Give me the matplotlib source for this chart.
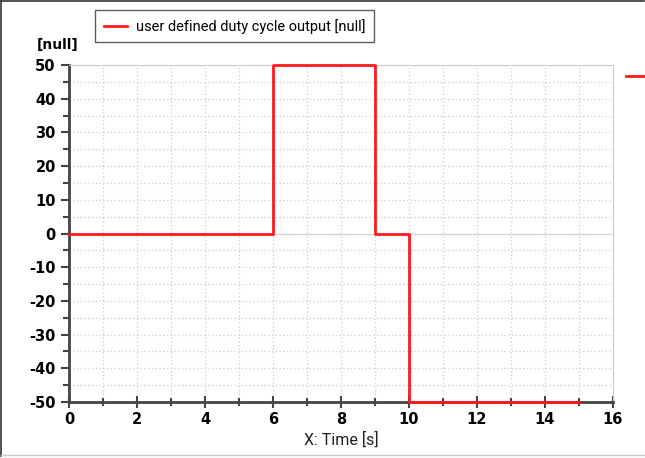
import matplotlib.pyplot as plt
from matplotlib.ticker import MultipleLocator

plt.rcParams['font.family'] = ['DejaVu Sans']
plt.rcParams['axes.unicode_minus'] = False

# step signal: duty cycle output
time = [0, 6, 6, 9, 9, 10, 10, 15]
duty = [0, 0, 50, 50, 0, 0, -50, -50]

xticks = [0, 2, 4, 6, 8, 10, 12, 14, 16]
yticks = [50, 40, 30, 20, 10, 0, -10, -20, -30, -40, -50]

fig = plt.figure(figsize=(6.45, 4.58), dpi=100)
ax = fig.add_axes([69 / 645, 1 - 402 / 458, 544 / 645, 337 / 458])

# frame round the whole picture
fig.add_artist(plt.Line2D([0.002, 0.002], [0.005, 0.998], color='#333333', lw=1.2))
fig.add_artist(plt.Line2D([0.002, 0.998], [0.998, 0.998], color='#333333', lw=1.2))
fig.add_artist(plt.Line2D([0.002, 0.998], [0.006, 0.006], color='#cccccc', lw=1))

ax.axhline(0, color='#dddddd', lw=1, zorder=1)
line, = ax.plot(time, duty, color='#ff1a1a', lw=2, zorder=5, clip_on=False,
                label='user defined duty cycle output [null]')

ax.set_xlim(0, 16)
ax.set_ylim(-50, 50)
ax.set_xticks(xticks)
ax.set_yticks(yticks)
ax.xaxis.set_minor_locator(MultipleLocator(1))
ax.yaxis.set_minor_locator(MultipleLocator(5))
ax.grid(which='both', color='#cccccc', ls=(0, (1, 2)), lw=0.9)

for s in ['top', 'right']:
    ax.spines[s].set_color('#cccccc')
for s in ['left', 'bottom']:
    ax.spines[s].set_color('#444444')
    ax.spines[s].set_linewidth(2)

ax.tick_params(which='major', length=6, width=1.5, color='#444444')
ax.tick_params(which='minor', length=4, width=1.5, color='#444444')
ax.tick_params(axis='x', which='both', direction='inout', length=8)
ax.tick_params(axis='x', which='minor', length=6)
for lab in ax.get_xticklabels() + ax.get_yticklabels():
    lab.set_fontweight('bold')
    lab.set_fontsize(10.5)

ax.set_xlabel('X: Time [s]', fontsize=11.5, labelpad=3, family='Roboto', color='#222222')
ax.text(37 / 645, 1 - 52 / 458, '[null]', transform=fig.transFigure, fontsize=10,
        fontweight='bold', ha='left', va='bottom')

leg = fig.legend(handles=[line], loc='upper left', bbox_to_anchor=(95 / 645, 1 - 10 / 458),
                 fancybox=False, edgecolor='#333333', borderaxespad=0,
                 prop={'family': 'Roboto', 'size': 10.5},
                 handlelength=1.6, borderpad=0.6, handletextpad=0.6)
leg.get_frame().set_linewidth(1)

fig.add_artist(plt.Line2D([626 / 645, 645 / 645], [1 - 76 / 458, 1 - 76 / 458],
                          color='#ff1a1a', lw=2))

plt.savefig('out.png')
